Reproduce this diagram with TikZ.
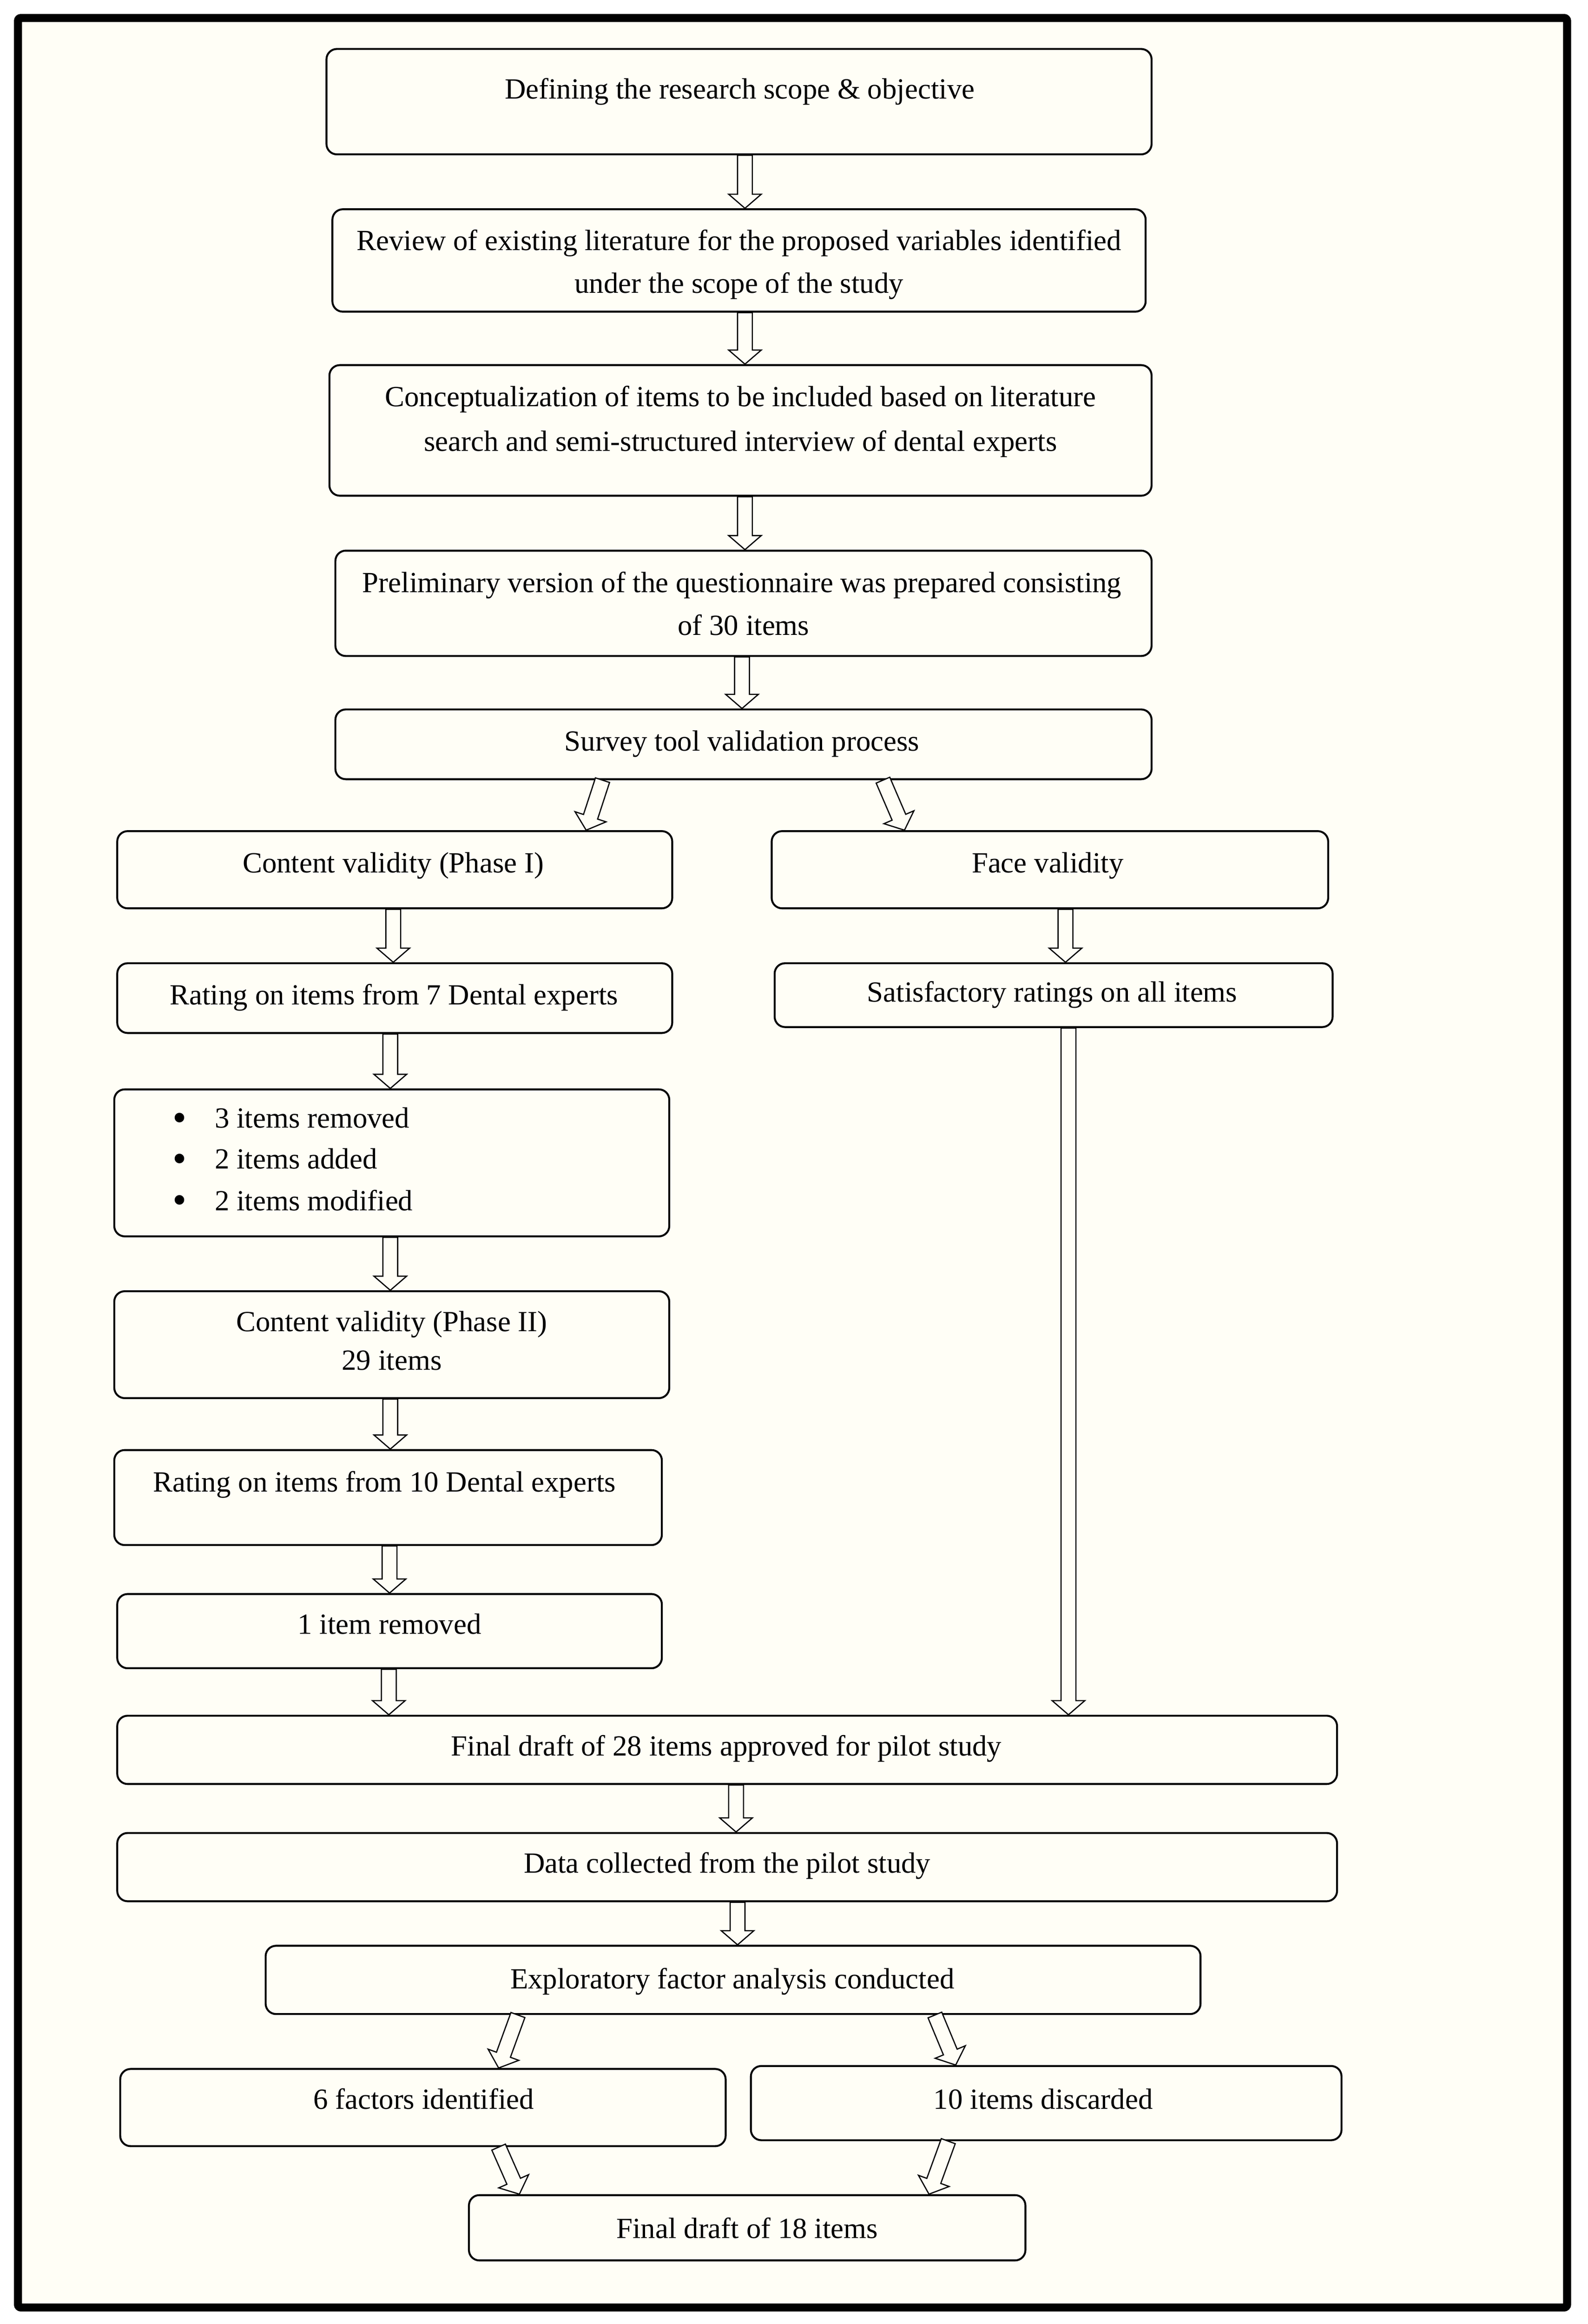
\documentclass[tikz,border=0pt]{standalone}
\usepackage{fontspec}
\setmainfont{Liberation Serif}
\usetikzlibrary{calc}
\definecolor{bgc}{RGB}{255,254,246}
\tikzset{
  flowbox/.style={draw=black, line width=1.3pt, rounded corners=7pt, fill=bgc, inner sep=0pt},
  ftext/.style={anchor=base, inner sep=0pt, font=\fontsize{19.7}{30}\selectfont},
  btext/.style={anchor=base west, inner sep=0pt, font=\fontsize{19.7}{30}\selectfont},
  bullet/.style={anchor=base, inner sep=0pt, font=\fontsize{27}{30}\selectfont},
  arrowshape/.style={draw=black, line width=0.8pt, fill=bgc, line join=miter},
}
\newcommand{\blockarr}[2]{%
  \coordinate (arrS) at (#1);
  \coordinate (arrE) at (#2);
  \coordinate (arrH) at ($(arrE)!9.5pt!(arrS)$);
  \draw[arrowshape] ($(arrS)!5pt!90:(arrE)$) -- ($(arrH)!5pt!90:(arrE)$) -- ($(arrH)!11pt!90:(arrE)$) -- (arrE) -- ($(arrH)!11pt!-90:(arrE)$) -- ($(arrH)!5pt!-90:(arrE)$) -- ($(arrS)!5pt!-90:(arrE)$) -- cycle;
}
\begin{document}
\begin{tikzpicture}[x=1pt,y=-1pt]
\useasboundingbox (0,0) rectangle (1070,1565.85);
\fill[white] (0,0) rectangle (1070,1565.85);
\draw[line width=5.4pt, fill=bgc, rounded corners=2pt] (12.1,12.1) rectangle (1056,1554.7);

% boxes
\node[flowbox, minimum width=556pt, minimum height=71pt] (b1) at (498,68.5) {};
\node[flowbox, minimum width=548pt, minimum height=69pt] (b2) at (498,175.5) {};
\node[flowbox, minimum width=554pt, minimum height=88pt] (b3) at (499,290) {};
\node[flowbox, minimum width=550pt, minimum height=71pt] (b4) at (501,406.5) {};
\node[flowbox, minimum width=550pt, minimum height=47pt] (b5) at (501,501.5) {};
\node[flowbox, minimum width=374pt, minimum height=52pt] (b6) at (266,586) {};
\node[flowbox, minimum width=375pt, minimum height=52pt] (b7) at (707.5,586) {};
\node[flowbox, minimum width=374pt, minimum height=47pt] (b8) at (266,672.5) {};
\node[flowbox, minimum width=376pt, minimum height=43pt] (b9) at (710,670.5) {};
\node[flowbox, minimum width=374pt, minimum height=99pt] (b10) at (264,783.5) {};
\node[flowbox, minimum width=374pt, minimum height=72pt] (b11) at (264,906) {};
\node[flowbox, minimum width=369pt, minimum height=64pt] (b12) at (261.5,1009) {};
\node[flowbox, minimum width=367pt, minimum height=50pt] (b13) at (262.5,1099) {};
\node[flowbox, minimum width=822pt, minimum height=46pt] (b14) at (490,1179) {};
\node[flowbox, minimum width=822pt, minimum height=46pt] (b15) at (490,1258) {};
\node[flowbox, minimum width=630pt, minimum height=46pt] (b16) at (494,1334) {};
\node[flowbox, minimum width=408pt, minimum height=52pt] (b17) at (285,1420) {};
\node[flowbox, minimum width=398pt, minimum height=50pt] (b18) at (705,1417) {};
\node[flowbox, minimum width=375pt, minimum height=44pt] (b19) at (503.5,1501) {};

% texts
\node[ftext] (t1) at (498.5,66.5) {Defining the research scope \& objective};
\node[ftext] (t2a) at (498,168.5) {Review of existing literature for the proposed variables identified};
\node[ftext] (t2b) at (498,197.5) {under the scope of the study};
\node[ftext] (t3a) at (499,274) {Conceptualization of items to be included based on literature};
\node[ftext] (t3b) at (499,304) {search and semi-structured interview of dental experts};
\node[ftext] (t4a) at (500,399) {Preliminary version of the questionnaire was prepared consisting};
\node[ftext] (t4b) at (501,428) {of 30 items};
\node[ftext] (t5) at (500,506) {Survey tool validation process};
\node[ftext] (t6) at (265,588) {Content validity (Phase I)};
\node[ftext] (t7) at (706,588) {Face validity};
\node[ftext] (t8) at (265.5,677) {Rating on items from 7 Dental experts};
\node[ftext] (t9) at (709,675) {Satisfactory ratings on all items};
\node[bullet] (u1) at (121,762) {\textbullet};
\node[bullet] (u2) at (121,789.5) {\textbullet};
\node[bullet] (u3) at (121,817.5) {\textbullet};
\node[btext] (t10a) at (144.5,760) {3 items removed};
\node[btext] (t10b) at (144.5,787.5) {2 items added};
\node[btext] (t10c) at (144.5,815.5) {2 items modified};
\node[ftext] (t11a) at (264,897) {Content validity (Phase II)};
\node[ftext] (t11b) at (264,923) {29 items};
\node[ftext] (t12) at (259,1005) {Rating on items from 10 Dental experts};
\node[ftext] (t13) at (262.5,1101) {1 item removed};
\node[ftext] (t14) at (489.5,1183) {Final draft of 28 items approved for pilot study};
\node[ftext] (t15) at (490,1262) {Data collected from the pilot study};
\node[ftext] (t16) at (493.5,1340) {Exploratory factor analysis conducted};
\node[ftext] (t17) at (285.5,1421) {6 factors identified};
\node[ftext] (t18) at (703,1421) {10 items discarded};
\node[ftext] (t19) at (503.5,1508) {Final draft of 18 items};

% vertical arrows
\blockarr{[xshift=4pt]b1.south}{[xshift=4pt]b2.north}
\blockarr{[xshift=4pt]b2.south}{[xshift=3pt]b3.north}
\blockarr{[xshift=3pt]b3.south}{[xshift=1pt]b4.north}
\blockarr{[xshift=-1pt]b4.south}{[xshift=-1pt]b5.north}
\blockarr{[xshift=-1pt]b6.south}{[xshift=-1pt]b8.north}
\blockarr{[xshift=10.5pt]b7.south}{[xshift=8pt]b9.north}
\blockarr{[xshift=-3pt]b8.south}{[xshift=-1pt]b10.north}
\blockarr{[xshift=-1pt]b10.south}{[xshift=-1pt]b11.north}
\blockarr{[xshift=-1pt]b11.south}{[xshift=1.5pt]b12.north}
\blockarr{[xshift=1pt]b12.south}{[xshift=0pt]b13.north}
\blockarr{[xshift=-0.5pt]b13.south}{[xshift=-228pt]b14.north}
\blockarr{[xshift=10pt]b9.south}{[xshift=230pt]b14.north}
\blockarr{[xshift=6pt]b14.south}{[xshift=6pt]b15.north}
\blockarr{[xshift=7pt]b15.south}{[xshift=3pt]b16.north}

% diagonal arrows
\blockarr{[xshift=-95pt]b5.south}{[xshift=129pt]b6.north}
\blockarr{[xshift=94pt]b5.south}{[xshift=-98pt]b7.north}
\blockarr{[xshift=-145pt]b16.south}{[xshift=51pt]b17.north}
\blockarr{[xshift=136pt]b16.south}{[xshift=-61pt]b18.north}
\blockarr{[xshift=51pt]b17.south}{[xshift=-153.5pt]b19.north}
\blockarr{[xshift=-66pt]b18.south}{[xshift=122.5pt]b19.north}
\end{tikzpicture}
\end{document}
